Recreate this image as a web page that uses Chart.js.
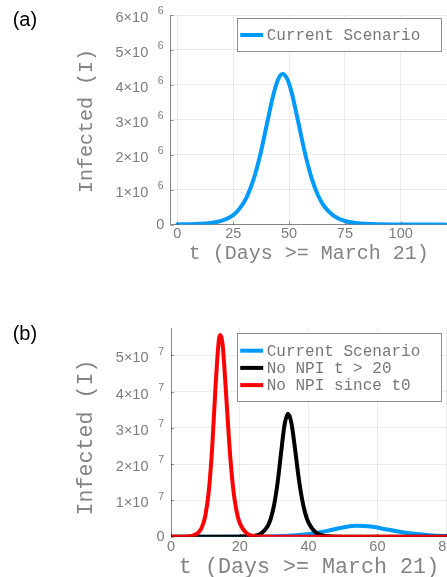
<!DOCTYPE html>
<html><head><meta charset="utf-8">
<script src="https://cdn.jsdelivr.net/npm/chart.js@4.4.1/dist/chart.umd.min.js"></script>
<style>
html,body{margin:0;padding:0;background:#fff;overflow:hidden}
#wrap{position:relative;width:447px;height:577px;overflow:hidden;background:#fff}
canvas{position:absolute;left:0}
#ca{top:0}
#cb{top:290px}
</style></head><body>
<div id="wrap"><canvas id="ca" width="480" height="290"></canvas><canvas id="cb" width="480" height="287"></canvas></div>
<script>
// ---------- Panel (a) data: infected, units of 10^6 ----------
const daysA = [0,5,10,15,20,25,28,31,34,37,40,43,45,47,49,51,54,57,60,63,66,70,75,80,90,100,110,120];
const currentA = [0.003,0.007,0.018,0.044,0.11,0.27,0.47,0.78,1.27,1.97,2.85,3.72,4.14,4.31,4.19,3.82,2.97,2.08,1.35,0.83,0.50,0.25,0.10,0.04,0.006,0.001,0.0002,0];
const xTicksA = [0,25,50,75,100];
const yTicksA = [0,1,2,3,4,5,6];
const expA = 6;

// ---------- Panel (b) data: infected, units of 10^7 ----------
const daysBlue = [0,10,20,25,30,35,40,45,50,54,58,62,66,70,75,80,85,90];
const currentB = [0.0003,0.0008,0.0022,0.0056,0.0136,0.033,0.075,0.154,0.255,0.299,0.278,0.213,0.142,0.086,0.042,0.020,0.009,0.004];
const daysBlack = [0,10,20,24,26,28,29,30,31,32,33,34,35,36,37,38,39,40,42,44,46,50,60,90];
const noNpi20 = [0,0,0.002,0.022,0.077,0.273,0.50,0.893,1.50,2.31,3.08,3.39,3.13,2.46,1.70,1.08,0.65,0.378,0.121,0.038,0.012,0.001,0,0];
const daysRed = [0,4,6,8,9,10,11,12,13,14,14.4,15,16,17,18,19,20,22,24,27,30,40,60,90];
const noNpiT0 = [0,0.002,0.022,0.116,0.264,0.59,1.265,2.50,4.23,5.48,5.56,5.30,3.95,2.48,1.39,0.727,0.369,0.091,0.022,0.003,0,0,0,0];
const xTicksB = [0,20,40,60,80];
const yTicksB = [0,1,2,3,4,5];
const expB = 7;

const labelsA = ['Current Scenario'];
const labelsB = ['Current Scenario','No NPI t > 20','No NPI since t0'];
const xTitle = 't (Days >= March 21)';
const yTitle = 'Infected (I)';

const BLUE = '#009AFA', BLACK = '#000000', RED = '#FF0000';
const SANS = "'Liberation Sans', Arial, sans-serif";
const MONO = "'Liberation Mono', 'Courier New', monospace";
const GRAY = '#7c7c7c';
const TGRAY = '#838383';
const VISIBLE_W = 447;

const pts = (xs, ys) => xs.map((x, i) => ({x, y: ys[i]}));

function decor(cfg) {
  return {
    id: 'decor',
    afterDraw(chart) {
      const {ctx, chartArea: ca, scales: {x, y}} = chart;
      ctx.save();
      // small inward tick marks
      ctx.strokeStyle = 'rgba(0,0,0,0.4)'; ctx.lineWidth = 1;
      y.ticks.forEach(t => {
        const py = Math.round(y.getPixelForValue(t.value)) + 0.5;
        ctx.beginPath(); ctx.moveTo(ca.left, py); ctx.lineTo(ca.left + 3, py); ctx.stroke();
      });
      x.ticks.forEach(t => {
        const px = Math.round(x.getPixelForValue(t.value)) + 0.5;
        ctx.beginPath(); ctx.moveTo(px, ca.bottom); ctx.lineTo(px, ca.bottom - 3); ctx.stroke();
      });
      // y tick labels with superscript exponent
      ctx.fillStyle = GRAY; ctx.textAlign = 'right'; ctx.textBaseline = 'middle';
      y.ticks.forEach(t => {
        const py = y.getPixelForValue(t.value);
        if (t.value === 0) {
          ctx.font = `14.5px ${SANS}`; ctx.fillText('0', ca.left - 6.5, py);
        } else {
          ctx.font = `10.5px ${SANS}`; ctx.fillText(String(cfg.exp), ca.left - 7, py - 3.5);
          ctx.font = `14.5px ${SANS}`; ctx.fillText(t.value + '×10', ca.left - 22.5, py + 3);
        }
      });
      // x tick labels
      ctx.textAlign = 'center'; ctx.font = `14.5px ${SANS}`;
      x.ticks.forEach(t => ctx.fillText(String(t.value), x.getPixelForValue(t.value), ca.bottom + 9.8));
      // axis titles
      ctx.fillStyle = TGRAY;
      ctx.font = `${cfg.titleSize}px ${MONO}`;
      ctx.fillText(xTitle, (ca.left + VISIBLE_W) / 2, cfg.xTitleY);
      ctx.save(); ctx.translate(cfg.yTitleX, cfg.yTitleY); ctx.rotate(-Math.PI / 2);
      ctx.fillText(yTitle, 0, 0); ctx.restore();
      // legend
      const L = cfg.legend;
      ctx.fillStyle = '#fff'; ctx.fillRect(L.x, L.y, L.w, L.h);
      ctx.strokeStyle = '#8f8f8f'; ctx.lineWidth = 1;
      ctx.strokeRect(Math.round(L.x) + 0.5, Math.round(L.y) + 0.5, Math.round(L.w), Math.round(L.h));
      ctx.font = `16px ${MONO}`; ctx.textAlign = 'left';
      chart.data.datasets.forEach((ds, i) => {
        const ry = L.y + L.first + i * L.step;
        ctx.strokeStyle = ds.borderColor; ctx.lineWidth = 4;
        ctx.beginPath(); ctx.moveTo(L.x + 3.5, ry); ctx.lineTo(L.x + 26.5, ry); ctx.stroke();
        ctx.fillStyle = '#777'; ctx.fillText(ds.label, L.x + 30, ry + 1);
      });
      // panel label
      ctx.fillStyle = '#000'; ctx.font = `20px ${SANS}`; ctx.textBaseline = 'alphabetic';
      ctx.fillText(cfg.panel, 12.7, cfg.panelY);
      ctx.restore();
    }
  };
}

function makeChart(el, datasets, o) {
  return new Chart(document.getElementById(el), {
    type: 'line',
    data: {datasets},
    options: {
      responsive: false, animation: false, devicePixelRatio: 1,
      layout: {padding: {top: o.padTop, right: o.padRight, left: 0, bottom: 0}},
      plugins: {legend: {display: false}, tooltip: {enabled: false}},
      elements: {point: {radius: 0}, line: {borderWidth: 4, cubicInterpolationMode: 'monotone', borderCapStyle: 'round', borderJoinStyle: 'round'}},
      scales: {
        x: {type: 'linear', min: o.xMin, max: o.xMax,
            afterBuildTicks: s => { s.ticks = o.xTicks.map(v => ({value: v})); },
            afterFit: s => { s.height = o.xHeight; },
            ticks: {display: false},
            grid: {color: 'rgba(0,0,0,0.075)', drawTicks: false, lineWidth: 1},
            border: {color: '#858585', width: 1}},
        y: {type: 'linear', min: o.yMin, max: o.yMax,
            afterBuildTicks: s => { s.ticks = o.yTicks.map(v => ({value: v})); },
            afterFit: s => { s.width = o.yWidth; },
            ticks: {display: false},
            grid: {color: 'rgba(0,0,0,0.075)', drawTicks: false, lineWidth: 1},
            border: {color: '#858585', width: 1}}
      }
    },
    plugins: [decor(o.decor)]
  });
}

makeChart('ca', [
  {label: labelsA[0], data: pts(daysA, currentA), borderColor: BLUE}
], {
  padTop: 15, padRight: 26.6, xHeight: 65.5, yWidth: 170.7,
  xMin: -3, xMax: 123.6, yMin: 0, yMax: 6, xTicks: xTicksA, yTicks: yTicksA,
  decor: {exp: expA, titleSize: 20, xTitleY: 253.5, yTitleX: 87, yTitleY: 121,
          legend: {x: 236.7, y: 18.3, w: 204, h: 33.4, first: 16.7, step: 17.2},
          panel: '(a)', panelY: 26}
});

makeChart('cb', [
  {label: labelsB[0], data: pts(daysBlue, currentB), borderColor: BLUE, order: 2},
  {label: labelsB[1], data: pts(daysBlack, noNpi20), borderColor: BLACK, order: 1},
  {label: labelsB[2], data: pts(daysRed, noNpiT0), borderColor: RED, order: 0}
], {
  padTop: 38, padRight: 20, xHeight: 40.3, yWidth: 171,
  xMin: 0, xMax: 84, yMin: 0, yMax: 5.75, xTicks: xTicksB, yTicks: yTicksB,
  decor: {exp: expB, titleSize: 21.7, xTitleY: 277, yTitleX: 86.7, yTitleY: 147.5,
          legend: {x: 236.7, y: 43.3, w: 204, h: 67.7, first: 17.4, step: 17.2},
          panel: '(b)', panelY: 49.5}
});
</script>
</body></html>
